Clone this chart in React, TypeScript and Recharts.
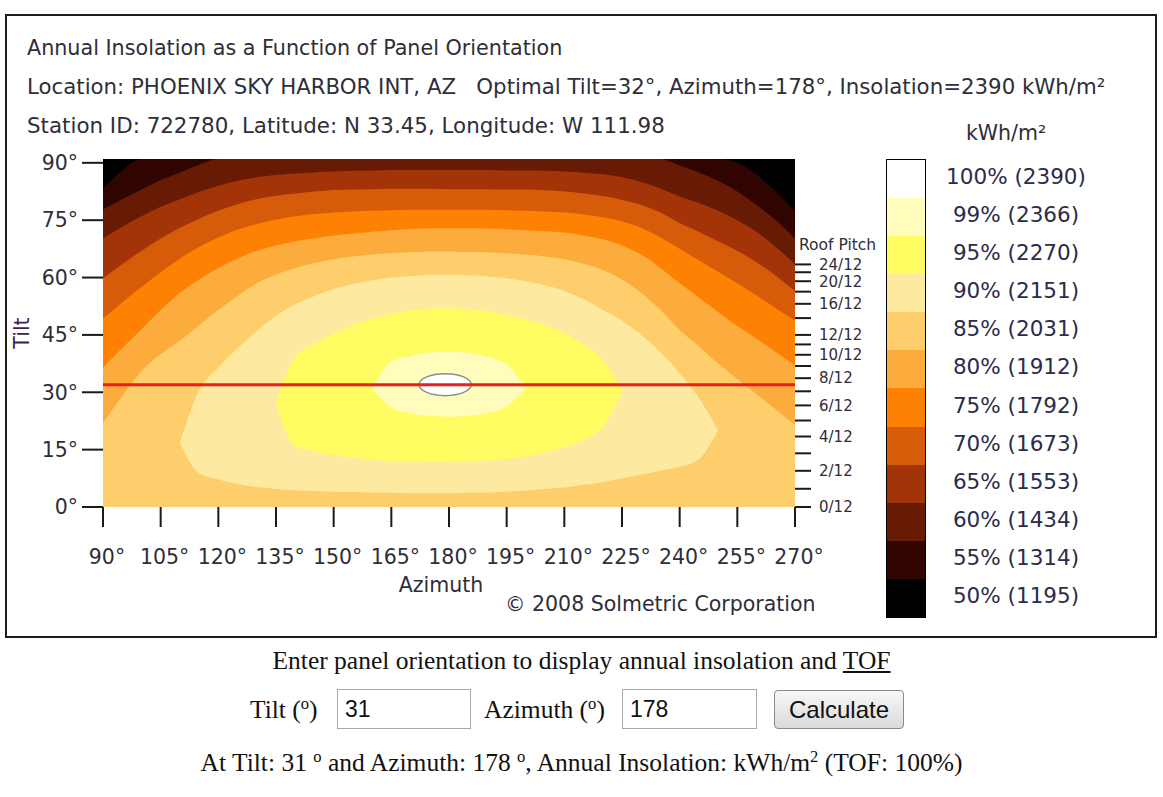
import { Area, CartesianGrid, ComposedChart, ReferenceLine, Scatter, XAxis, YAxis } from 'recharts'

const azimuths = [
  90, 95, 100, 105, 110, 115, 120, 125, 130, 135, 140, 145, 150, 155, 160, 165, 170, 175, 180,
  185, 190, 195, 200, 205, 210, 215, 220, 225, 230, 235, 240, 245, 250, 255, 260, 265, 270,
]
const azimuthTicks = [90, 105, 120, 135, 150, 165, 180, 195, 210, 225, 240, 255, 270]
const tiltTicks = [0, 15, 30, 45, 60, 75, 90]
const roofRise = [0, 1, 2, 3, 4, 5, 6, 7, 8, 9, 10, 11, 12, 14, 16, 18, 20, 22, 24]
const roofRiseLabelled = [0, 2, 4, 6, 8, 10, 12, 16, 20, 24]

const levelPct = [100, 99, 95, 90, 85, 80, 75, 70, 65, 60, 55, 50]
const levelKwh = [2390, 2366, 2270, 2151, 2031, 1912, 1792, 1673, 1553, 1434, 1314, 1195]
const levelColor = [
  '#ffffff', '#fffcbc', '#fffd62', '#fde99f', '#fdce6b', '#fcab3d',
  '#fd8102', '#d65c0a', '#a23407', '#671a04', '#300501', '#000000',
]

// upper tilt edge of the open regions (>= level), one value per azimuth
const top55 = [
  83.3, 88, 91, 91, 91, 91, 91, 91, 91, 91, 91, 91, 91, 91, 91, 91, 91, 91, 91,
  91, 91, 91, 91, 91, 91, 91, 91, 91, 91, 91, 91, 91, 91, 90, 87, 82.5, 77.5,
]
const top60 = [
  77.8, 80.5, 83, 85.5, 87.5, 89.5, 91, 91, 91, 91, 91, 91, 91, 91, 91, 91, 91, 91, 91,
  91, 91, 91, 91, 91, 91, 91, 91, 91, 91, 91, 89.3, 87.5, 85.3, 82.5, 79, 75, 70.3,
]
const top65 = [
  70.3, 73.3, 76, 78.5, 80.5, 82.4, 84, 85.3, 86.2, 86.8, 87.2, 87.5, 87.7, 87.9, 88, 88.1, 88.1, 88.1, 88.1,
  88.1, 88.1, 88, 88, 87.9, 87.7, 87.4, 87, 86.2, 85, 83.3, 81.2, 79.5, 77.5, 75, 72, 68, 63.5,
]
const top70 = [
  59.8, 63.5, 67, 70.2, 73, 75.4, 77.5, 79.2, 80.5, 81.4, 82, 82.5, 82.9, 83, 83.1, 83.2, 83.2, 83.2, 83.1,
  83.1, 83.1, 83, 83, 82.8, 82.5, 82, 81.3, 80.3, 79, 77, 74.2, 72, 69.5, 67, 64, 60.5, 56.5,
]
const top75 = [
  49.3, 53.5, 57.5, 61.4, 65, 68, 70.5, 72.5, 74, 75.2, 76, 76.6, 77, 77.3, 77.5, 77.6, 77.7, 77.7, 77.7,
  77.7, 77.7, 77.6, 77.5, 77.3, 77, 76.5, 75.8, 74.7, 73, 70.5, 67.5, 64.5, 61.5, 58.5, 55.3, 52, 48.7,
]
const top80 = [
  36.5, 41.5, 46.5, 51.5, 56, 59.5, 62.5, 65, 67, 68.4, 69.5, 70.3, 71, 71.5, 72, 72.4, 72.7, 72.9, 72.9,
  72.9, 72.8, 72.6, 72.4, 72.1, 71.8, 71, 70, 68.4, 66, 62.5, 58.5, 54.8, 51, 47.3, 44, 40.5, 37,
]
const top85 = [
  22, 29, 35.5, 40, 43.5, 47.5, 51.5, 55.2, 58.5, 60.8, 62.5, 63.8, 64.8, 65.5, 66, 66.4, 66.6, 66.8, 66.8,
  66.7, 66.6, 66.3, 66, 65.5, 64.8, 63.6, 62, 59.5, 56, 51.5, 46.3, 42, 37.5, 33.5, 29.5, 25.5, 21.5,
]

// closed regions: low / high tilt edge
const band90Az = [110, 115, 120, 125, 130, 135, 140, 145, 150, 155, 160, 165, 170, 175, 180, 185, 190, 195, 200, 205, 210, 215, 220, 225, 230, 235, 240, 245, 250]
const band90Low = [16.7, 8.8, 7.2, 6, 5.2, 4.7, 4.4, 4.2, 4, 3.9, 3.8, 3.7, 3.6, 3.6, 3.6, 3.7, 3.8, 4, 4.3, 4.7, 5.1, 5.8, 6.5, 7.5, 8.5, 9.5, 10.5, 12.5, 20]
const band90High = [16.7, 30.5, 36.5, 41.5, 46, 50, 53, 55.2, 57, 58.3, 59.3, 60, 60.4, 60.7, 60.7, 60.6, 60.3, 59.8, 59, 58, 56.5, 54.3, 51.5, 48.7, 45, 40.5, 35, 28.5, 20]

const band95Az = [135, 140, 145, 150, 155, 160, 165, 170, 175, 180, 185, 190, 195, 200, 205, 210, 215, 220, 225]
const band95Low = [27, 15.8, 14.5, 13.6, 12.9, 12.4, 12.1, 12, 11.9, 11.9, 12, 12.2, 12.6, 13.3, 14.3, 15.6, 17.5, 21, 30]
const band95High = [27, 39.3, 42.6, 45.3, 47.5, 49.2, 50.5, 51.4, 51.9, 52, 51.8, 51.2, 50.3, 49, 47.5, 45.5, 42.5, 38.5, 30]

const band99Az = [160, 165, 170, 175, 180, 185, 190, 195, 200]
const band99Low = [31, 26, 24.5, 23.8, 23.6, 23.8, 24.5, 26.3, 31]
const band99High = [31, 38, 39.5, 40.4, 40.6, 40.3, 39.3, 37.3, 31]

const optimum = [{ az: 179, tilt: 32 }]
const optimalTilt = 32

function range(azList: number[], lo: number[], hi: number[], az: number) {
  const k = azList.indexOf(az)
  return k < 0 ? null : [lo[k], hi[k]]
}

const rows = azimuths.map((az, i) => ({
  az,
  p55: top55[i],
  p60: top60[i],
  p65: top65[i],
  p70: top70[i],
  p75: top75[i],
  p80: top80[i],
  p85: top85[i],
  p90: range(band90Az, band90Low, band90High, az),
  p95: range(band95Az, band95Low, band95High, az),
  p99: range(band99Az, band99Low, band99High, az),
}))

// dataKey -> index into levelColor
const layers: [string, number][] = [
  ['p55', 10], ['p60', 9], ['p65', 8], ['p70', 7], ['p75', 6], ['p80', 5],
  ['p85', 4], ['p90', 3], ['p95', 2], ['p99', 1],
]

const roofTilt = roofRise.map((r) => (Math.atan(r / 12) * 180) / Math.PI)

const SANS = '"DejaVu Sans", Verdana, sans-serif'
const SERIF = '"Liberation Serif", "Times New Roman", serif'
const INK = '#2e2e38'
const sup = { fontSize: '0.65em', position: 'relative' as const, top: '-0.55em' }

function OptimumMark(p: any) {
  return <ellipse cx={p.cx} cy={p.cy} rx={26} ry={11} fill="#ffffff" stroke="#8c8c8c" strokeWidth={1.5} />
}

function ColorScale() {
  const seg = 457 / levelPct.length
  return (
    <>
      <div style={{ position: 'absolute', left: 940, width: 132, top: 121, textAlign: 'center', font: `20.5px ${SANS}`, color: INK }}>
        kWh/m²
      </div>
      <div style={{ position: 'absolute', left: 886, top: 159, width: 38, height: 457, border: '1px solid #000' }}>
        {levelPct.map((p, i) => (
          <div key={p} style={{ height: seg, background: levelColor[i] }} />
        ))}
      </div>
      {levelPct.map((p, i) => (
        <div
          key={p}
          style={{
            position: 'absolute', left: 930, width: 172, top: 160 + seg * i + seg / 2 - 15,
            textAlign: 'center', font: `21.5px ${SANS}`, lineHeight: '26px', color: '#2b2b4b',
          }}
        >
          {p}% ({levelKwh[i]})
        </div>
      ))}
    </>
  )
}

export default function App() {
  const tickLine = { stroke: '#1a1a1a', strokeWidth: 2 }
  return (
    <div style={{ position: 'absolute', left: 0, top: 0, width: 1163, height: 797, background: '#fff', fontFamily: SANS }}>
      <div style={{ position: 'absolute', left: 5, top: 14, width: 1148, height: 620, border: '2px solid #1c1c1c' }} />

      <div style={{ position: 'absolute', left: 27, top: 36, font: `20.7px ${SANS}`, lineHeight: '24px', color: INK, whiteSpace: 'pre' }}>
        Annual Insolation as a Function of Panel Orientation
      </div>
      <div style={{ position: 'absolute', left: 27, top: 75, font: `21.3px ${SANS}`, lineHeight: '24px', color: INK, whiteSpace: 'pre' }}>
        {'Location: PHOENIX SKY HARBOR INT, AZ   Optimal Tilt=32°, Azimuth=178°, Insolation=2390 kWh/m²'}
      </div>
      <div style={{ position: 'absolute', left: 27, top: 114, font: `21.4px ${SANS}`, lineHeight: '24px', color: INK, whiteSpace: 'pre' }}>
        Station ID: 722780, Latitude: N 33.45, Longitude: W 111.98
      </div>

      <div style={{ position: 'absolute', left: 0, top: 0 }}>
        <ComposedChart width={1163} height={640} data={rows} margin={{ top: 159, right: 0, bottom: 0, left: 0 }} style={{ fontFamily: SANS }}>
          <CartesianGrid fill={levelColor[11]} stroke="none" horizontal={false} vertical={false} />
          <XAxis
            dataKey="az"
            type="number"
            domain={[90, 270]}
            ticks={azimuthTicks}
            interval={0}
            allowDataOverflow
            height={133}
            axisLine={false}
            tickLine={tickLine}
            tickSize={20}
            tickMargin={22}
            tick={{ fill: INK, fontSize: 20.5, dx: 4 }}
            tickFormatter={(v) => `${v}°`}
            label={{ value: 'Azimuth', position: 'insideBottom', offset: 48, dx: -8, fill: INK, fontSize: 20.5 }}
          />
          <YAxis
            type="number"
            domain={[0, 91]}
            ticks={tiltTicks}
            interval={0}
            allowDataOverflow
            width={103}
            axisLine={false}
            tickLine={tickLine}
            tickSize={21}
            tickMargin={4}
            tick={{ fill: INK, fontSize: 20.5 }}
            tickFormatter={(v) => `${v}°`}
            label={{ value: 'Tilt', angle: -90, position: 'insideLeft', offset: 22, fill: '#3b2450', fontSize: 20.5, style: { textAnchor: 'middle' } }}
          />
          <YAxis
            yAxisId="pitch"
            orientation="right"
            type="number"
            domain={[0, 91]}
            ticks={roofTilt}
            interval={0}
            allowDataOverflow
            width={368}
            axisLine={false}
            tickLine={tickLine}
            tickSize={16}
            tickMargin={8}
            tick={{ fill: INK, fontSize: 15 }}
            tickFormatter={(_v, i) => (roofRiseLabelled.includes(roofRise[i]) ? `${roofRise[i]}/12` : '')}
          />
          {layers.map(([key, c]) => (
            <Area
              key={key}
              dataKey={key}
              type="monotone"
              stroke="none"
              fill={levelColor[c]}
              fillOpacity={1}
              dot={false}
              activeDot={false}
              isAnimationActive={false}
            />
          ))}
          <Scatter data={optimum} dataKey="tilt" shape={OptimumMark} isAnimationActive={false} zIndex={600} />
          <ReferenceLine y={optimalTilt} stroke="#ee1c1c" strokeWidth={3} zIndex={700} />
        </ComposedChart>
      </div>

      <div style={{ position: 'absolute', left: 799, top: 236, font: `15.5px ${SANS}`, lineHeight: '18px', color: INK }}>Roof Pitch</div>
      <ColorScale />
      <div style={{ position: 'absolute', left: 505, top: 592, font: `20.5px ${SANS}`, lineHeight: '24px', color: INK, whiteSpace: 'pre' }}>
        © 2008 Solmetric Corporation
      </div>

      <div style={{ position: 'absolute', left: 0, width: 1163, top: 645, textAlign: 'center', font: `25.5px ${SERIF}`, lineHeight: '31px', color: '#111' }}>
        Enter panel orientation to display annual insolation and <span style={{ textDecoration: 'underline' }}>TOF</span>
      </div>
      <div style={{ position: 'absolute', left: 250, top: 694, font: `25.5px ${SERIF}`, lineHeight: '31px', color: '#111', whiteSpace: 'pre' }}>
        Tilt (<span style={sup}>o</span>)
      </div>
      <input
        readOnly
        value="31"
        style={{ position: 'absolute', left: 337, top: 689, width: 134, height: 40, boxSizing: 'border-box', border: '1px solid #a9a9a9', font: `23px "Liberation Sans", Arial, sans-serif`, padding: '0 7px', color: '#111' }}
      />
      <div style={{ position: 'absolute', left: 484, top: 694, font: `25.5px ${SERIF}`, lineHeight: '31px', color: '#111', whiteSpace: 'pre' }}>
        Azimuth (<span style={sup}>o</span>)
      </div>
      <input
        readOnly
        value="178"
        style={{ position: 'absolute', left: 622, top: 689, width: 135, height: 40, boxSizing: 'border-box', border: '1px solid #a9a9a9', font: `23px "Liberation Sans", Arial, sans-serif`, padding: '0 7px', color: '#111' }}
      />
      <button
        style={{ position: 'absolute', left: 774, top: 690, width: 130, height: 39, boxSizing: 'border-box', border: '1px solid #8a8a8a', borderRadius: 4, background: 'linear-gradient(#f7f7f7, #dadada)', font: `24px "Liberation Sans", Arial, sans-serif`, color: '#111', padding: 0 }}
      >
        Calculate
      </button>
      <div style={{ position: 'absolute', left: 0, width: 1163, top: 747, textAlign: 'center', font: `25.5px ${SERIF}`, lineHeight: '31px', color: '#111', whiteSpace: 'pre' }}>
        At Tilt: 31 <span style={sup}>o</span> and Azimuth: 178 <span style={sup}>o</span>, Annual Insolation: kWh/m<span style={sup}>2</span> (TOF: 100%)
      </div>
    </div>
  )
}
